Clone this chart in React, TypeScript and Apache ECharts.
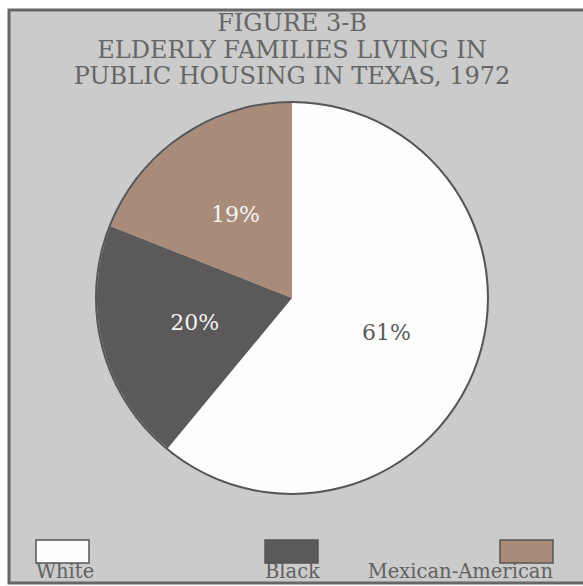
import React, { useEffect, useRef } from "react";
import * as echarts from "echarts";

const titleLines = ["FIGURE 3-B", "ELDERLY FAMILIES LIVING IN", "PUBLIC HOUSING IN TEXAS, 1972"];
const categories = ["White", "Black", "Mexican-American"];
const shares = [61, 20, 19];
const sliceColors = ["#fdfdfd", "#5b5959", "#a98b7a"];
const labelColors = ["#5a5a5a", "#f4f4f4", "#f4f4f4"];

const FONT = "DejaVu Serif";

export default function App() {
  const ref = useRef<HTMLDivElement>(null);
  useEffect(() => {
    if (!ref.current) return;
    const chart = echarts.init(ref.current, null, { renderer: "svg" });

    const legendX = [36, 265, 500];
    const legendAlign = ["left", "left", "right"];
    const legendGraphics: any[] = [];
    categories.forEach((c, i) => {
      legendGraphics.push({
        type: "rect",
        shape: { x: legendX[i], y: 540, width: 53, height: 23 },
        style: { fill: sliceColors[i], stroke: "#555", lineWidth: 1.5 },
        silent: true,
      });
      legendGraphics.push({
        type: "text",
        x: legendAlign[i] === "right" ? legendX[i] + 53 : legendX[i],
        y: 571,
        style: {
          text: c,
          font: `19.5px "${FONT}"`,
          fill: "#616161",
          textAlign: legendAlign[i],
          textVerticalAlign: "middle",
        },
        silent: true,
      });
    });

    chart.setOption({
      animation: false,
      backgroundColor: "#ffffff",
      graphic: [
        {
          type: "rect",
          z: -10,
          shape: { x: 9, y: 10, width: 590, height: 573 },
          style: { fill: "#cacbca", stroke: "#666", lineWidth: 3 },
          silent: true,
        },
        ...titleLines.map((t, i) => ({
          type: "text",
          x: 292,
          y: 23 + i * 26.5,
          style: {
            text: t,
            font: `24px "${FONT}"`,
            fill: "#666666",
            textAlign: "center",
            textVerticalAlign: "middle",
          },
          silent: true,
        })),
        ...legendGraphics,
      ],
      series: [
        {
          type: "pie",
          center: [292, 298],
          radius: [0, 195],
          startAngle: 90,
          clockwise: true,
          silent: true,
          label: {
            show: true,
            position: "inside",
            formatter: "{c}%",
            fontFamily: FONT,
            fontSize: 22,
          },
          labelLine: { show: false },
          data: categories.map((c, i) => ({
            name: c,
            value: shares[i],
            itemStyle: { color: sliceColors[i] },
            label: { color: labelColors[i] },
          })),
        },
        {
          type: "pie",
          center: [292, 298],
          radius: [195, 197],
          silent: true,
          label: { show: false },
          labelLine: { show: false },
          data: [{ value: 1, itemStyle: { color: "#555" } }],
        },
      ],
    });
    return () => chart.dispose();
  }, []);
  return (
    <div
      ref={ref}
      style={{ position: "absolute", left: 0, top: 0, width: 583, height: 586 }}
    />
  );
}
